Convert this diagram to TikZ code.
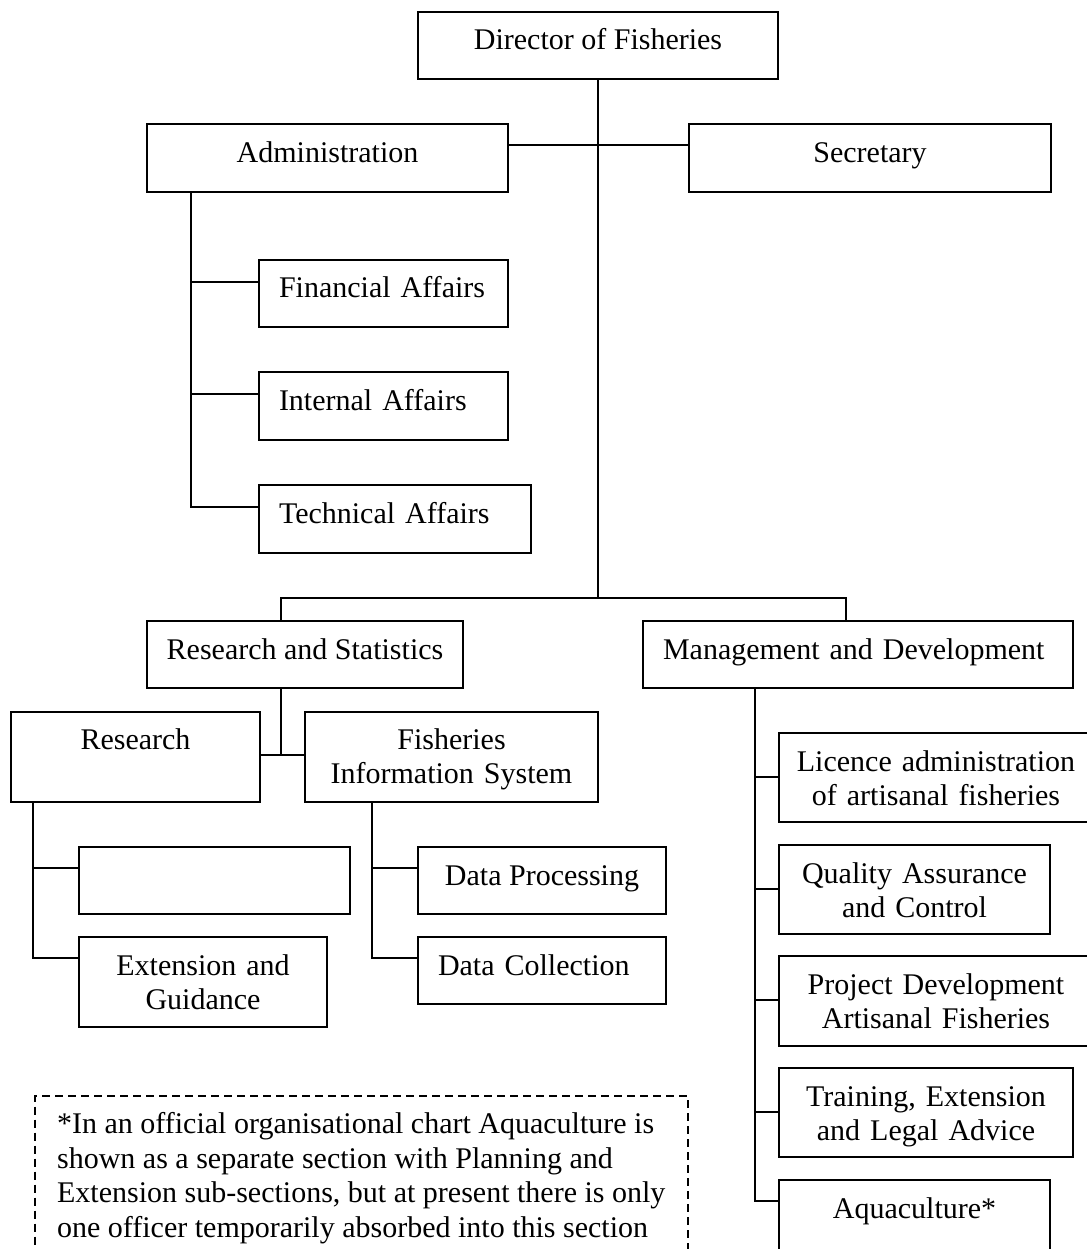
\documentclass[tikz,border=0pt]{standalone}
\usepackage{fontspec}
\setmainfont{Liberation Serif}
\tikzset{
  unit/.style={draw,line width=1.8pt,anchor=base,inner xsep=10pt,inner ysep=0pt,font=\fontsize{30}{34.5}\selectfont},
  link/.style={line width=1.8pt},
}
\begin{document}
\begin{tikzpicture}[x=1pt,y=-1pt]
\path[use as bounding box] (0,0) rectangle (1086,1249);
\node[unit,minimum width=360pt,text height=38pt,text depth=29pt] (dir) at (598,50) {Director of Fisheries};
\node[unit,minimum width=361pt,text height=39pt,text depth=29pt] (admin) at (327.5,163) {Administration};
\node[unit,minimum width=362pt,text height=39pt,text depth=29pt] (sec) at (870,163) {Secretary};
\node[unit,inner xsep=20pt,text width=209pt,align=left,text height=37pt,text depth=30pt] (fin) at (383.5,297) {Financial Affairs};
\node[unit,inner xsep=20pt,text width=209pt,align=left,text height=38pt,text depth=30pt] (int) at (383.5,410) {Internal Affairs};
\node[unit,inner xsep=20pt,text width=232pt,align=left,text height=38pt,text depth=30pt] (tech) at (395,523) {Technical Affairs};
\node[unit,minimum width=316pt,text height=38pt,text depth=29pt] (rs) at (305,659) {Research and Statistics};
\node[unit,inner xsep=20pt,text width=390pt,align=left,text height=38pt,text depth=29pt] (mgmt) at (858,659) {Management and Development};
\node[unit,minimum width=249pt,text height=37pt,text depth=53pt] (res) at (135.5,749) {Research};
\node[unit,text width=273pt,align=center,text height=37pt,text depth=53pt] (fis) at (451.5,749) {Fisheries\\Information System};
\node[unit,minimum width=271pt,text height=38pt,text depth=29pt] (blank) at (214.5,885) {};
\node[unit,text width=228pt,align=center,text height=38pt,text depth=52pt] (ext) at (203,975) {Extension and\\Guidance};
\node[unit,minimum width=248pt,text height=38pt,text depth=29pt] (dp) at (542,885) {Data Processing};
\node[unit,inner xsep=20pt,text width=208pt,align=left,text height=38pt,text depth=29pt] (dc) at (542,975) {Data Collection};
\node[unit,text width=294pt,align=center,text height=38pt,text depth=51pt] (lic) at (936,771) {Licence administration\\of artisanal fisheries};
\node[unit,text width=251pt,align=center,text height=38pt,text depth=51pt] (qa) at (914.5,883) {Quality Assurance\\and Control};
\node[unit,text width=294pt,align=center,text height=38pt,text depth=52pt] (proj) at (936,994) {Project Development\\Artisanal Fisheries};
\node[unit,text width=274pt,align=center,text height=38pt,text depth=51pt] (train) at (926,1106) {Training, Extension\\and Legal Advice};
\node[unit,minimum width=271pt,text height=38pt,text depth=52pt] (aqua) at (914.5,1218) {Aquaculture*};
\node[draw,line width=1.5pt,dash pattern=on 8pt off 5pt,anchor=north west,inner xsep=19pt,inner ysep=17pt,align=left,minimum width=653pt,font=\fontsize{30}{34.5}\selectfont] (note) at (34,1095) {*In an official organisational chart Aquaculture is\\shown as a separate section with Planning and\\Extension sub-sections, but at present there is only\\one officer temporarily absorbed into this section};
\coordinate (split) at (598,598);
\draw[link] (dir.south) -- (split);
\draw[link] ([xshift=135pt]rs.north west) |- (split) -| ([xshift=204pt]mgmt.north west);
\draw[link] ([yshift=-22pt]admin.north east) -- ([yshift=-22pt]sec.north west);
\foreach \n in {fin,int,tech} \draw[link] ([xshift=45pt]admin.south west) |- ([yshift=-22.5pt]\n.north west);
\draw[link] ([xshift=135pt]rs.south west) |- ([yshift=-44pt]fis.north west);
\draw[link] ([yshift=-44pt]res.north east) -- ([yshift=-44pt]fis.north west);
\foreach \n in {blank,ext} \draw[link] ([xshift=23pt]res.south west) |- ([yshift=-22pt]\n.north west);
\foreach \n in {dp,dc} \draw[link] ([xshift=68pt]fis.south west) |- ([yshift=-22pt]\n.north west);
\foreach \n in {lic,qa,proj,train} \draw[link] ([xshift=113pt]mgmt.south west) |- ([yshift=-45pt]\n.north west);
\draw[link] ([xshift=113pt]mgmt.south west) |- ([yshift=-22pt]aqua.north west);
\end{tikzpicture}
\end{document}
